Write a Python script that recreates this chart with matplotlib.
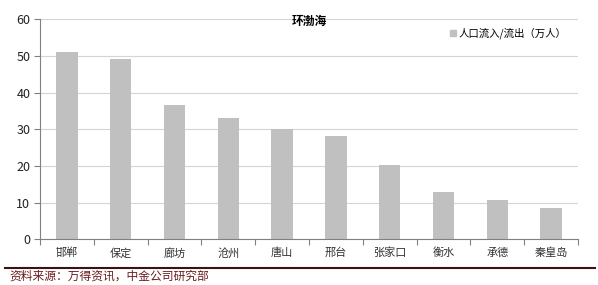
import matplotlib
matplotlib.use('Agg')
import matplotlib.pyplot as plt
from matplotlib.patches import Patch
from matplotlib.lines import Line2D

plt.rcParams['font.family'] = ['Noto Sans CJK SC', 'DejaVu Sans']

cities = ['邯郸', '保定', '廊坊', '沧州', '唐山', '邢台', '张家口', '衡水', '承德', '秦皇岛']
flows = [51.0, 49.3, 36.6, 33.2, 30.0, 28.2, 20.2, 12.8, 10.7, 8.5]
yticks = [0, 10, 20, 30, 40, 50, 60]

fig = plt.figure(figsize=(5.98, 2.85), dpi=100)
ax = fig.add_axes([0.0669, 0.1604, 0.8997, 0.7716])

x = list(range(len(cities)))
ax.bar(x, flows, width=0.4, color='#c0c0c0', zorder=2)
ax.set_xlim(-0.5, len(cities) - 0.5)
ax.set_ylim(0, 60)
ax.set_yticks(yticks)
ax.set_yticklabels([str(v) for v in yticks], fontsize=9, color='#222222')
ax.yaxis.grid(True, color='#d4d4d4', linewidth=0.8, zorder=0)

# category labels centred, tick marks between categories
ax.set_xticks(x)
ax.set_xticklabels(cities, fontsize=8, color='#333333')
ax.tick_params(axis='x', length=0, pad=6)
ax.set_xticks([i - 0.5 for i in range(len(cities) + 1)], minor=True)
ax.tick_params(axis='x', which='minor', length=4, color='#808080', width=0.8)
ax.tick_params(axis='y', length=4, color='#808080', width=0.8, pad=3)

for s in ['top', 'right']:
    ax.spines[s].set_visible(False)
for s in ['left', 'bottom']:
    ax.spines[s].set_color('#808080')
    ax.spines[s].set_linewidth(0.8)

ax.set_title('环渤海', fontsize=8.5, fontweight='bold', y=0.975, pad=0)
ax.legend(handles=[Patch(color='#c0c0c0', label='人口流入/流出（万人）')],
          loc='upper right', bbox_to_anchor=(0.995, 1.005), frameon=False,
          fontsize=7.5, handlelength=0.6, handleheight=0.6, handletextpad=0.2)

fig.add_artist(Line2D([0.008, 0.995], [0.058, 0.058], color='#3a1212', linewidth=1.5))
fig.text(0.015, 0.02, '资料来源：万得资讯，中金公司研究部', fontsize=8.5,
         style='italic', color='#6a1c1c')

fig.savefig('out.png', dpi=100)
